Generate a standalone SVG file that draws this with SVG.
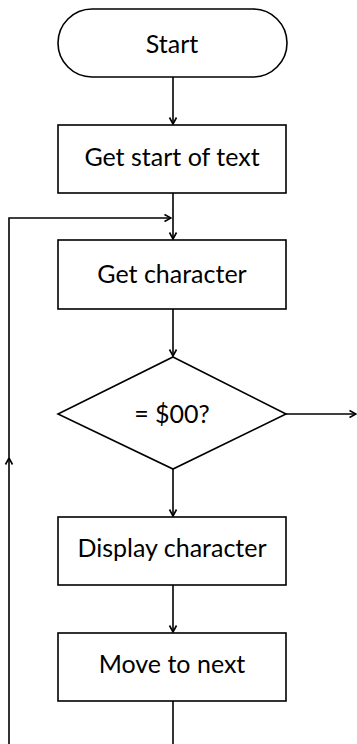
<svg xmlns="http://www.w3.org/2000/svg" width="357" height="744" viewBox="0 0 357 744">
  <style>
    .shape { fill: #ffffff; stroke: #000000; stroke-width: 1.6; }
    .link { fill: none; stroke: #000000; stroke-width: 1.6; }
    .label { font-family: Lato, "Open Sans", "Liberation Sans", sans-serif; font-size: 25px; fill: #000000; text-anchor: middle; }
  </style>
  <defs>
    <marker id="arrow" viewBox="0 0 10 10" refX="9.5" refY="5" markerWidth="10" markerHeight="10" markerUnits="userSpaceOnUse" orient="auto">
      <polyline points="3,1.5 9.5,5 3,8.5" fill="none" stroke="#000000" stroke-width="1.6"/>
    </marker>
  </defs>
  <rect width="357" height="744" fill="#ffffff"/>

  <g id="connectors">
    <line class="link" x1="173" y1="77" x2="173" y2="124" marker-end="url(#arrow)"/>
    <line class="link" x1="173" y1="193" x2="173" y2="239" marker-end="url(#arrow)"/>
    <line class="link" x1="173" y1="309" x2="173" y2="356" marker-end="url(#arrow)"/>
    <line class="link" x1="286" y1="414" x2="356" y2="414" marker-end="url(#arrow)"/>
    <line class="link" x1="173" y1="469" x2="173" y2="516" marker-end="url(#arrow)"/>
    <line class="link" x1="173" y1="585" x2="173" y2="632" marker-end="url(#arrow)"/>
    <line class="link" x1="173" y1="701" x2="173" y2="744"/>
    <!-- loop back from the bottom to above "Get character" -->
    <line class="link" x1="9" y1="744" x2="9" y2="458" marker-end="url(#arrow)"/>
    <polyline class="link" points="9,458 9,218 171,218" marker-end="url(#arrow)"/>
  </g>

  <g id="start">
    <rect class="shape" x="58" y="9" width="229" height="68" rx="34" ry="34"/>
    <text class="label" x="172" y="53">Start</text>
  </g>
  <g id="get-start">
    <rect class="shape" x="58" y="125" width="228" height="68"/>
    <text class="label" x="172" y="166">Get start of text</text>
  </g>
  <g id="get-char">
    <rect class="shape" x="58" y="240" width="228" height="69"/>
    <text class="label" x="172" y="283">Get character</text>
  </g>
  <g id="is-zero">
    <polygon class="shape" points="173,357 286,414 173,469 58,414"/>
    <text class="label" x="172" y="423">= $00?</text>
  </g>
  <g id="display-char">
    <rect class="shape" x="58" y="517" width="228" height="68"/>
    <text class="label" x="172" y="557">Display character</text>
  </g>
  <g id="move-next">
    <rect class="shape" x="58" y="633" width="228" height="68"/>
    <text class="label" x="172" y="673">Move to next</text>
  </g>
</svg>
